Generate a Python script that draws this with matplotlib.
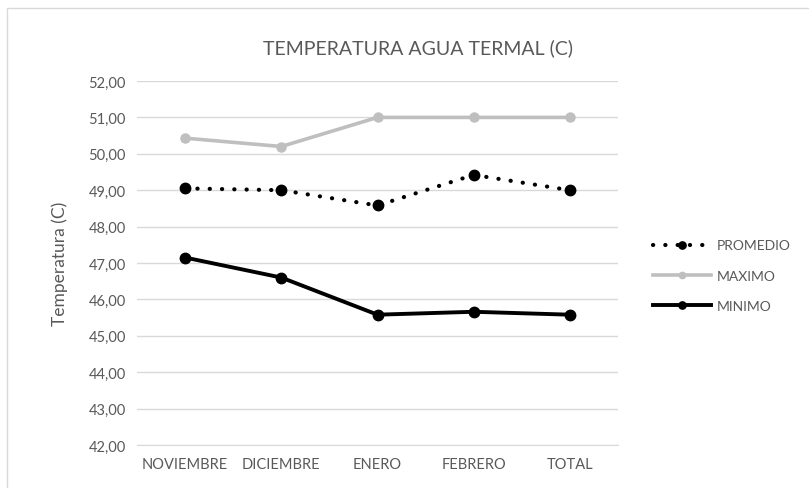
import matplotlib
matplotlib.use("Agg")
import matplotlib.pyplot as plt
from matplotlib.patches import Rectangle

categories = ["NOVIEMBRE", "DICIEMBRE", "ENERO", "FEBRERO", "TOTAL"]
promedio = [49.05, 49.0, 48.58, 49.42, 49.0]
maximo = [50.43, 50.2, 51.0, 51.0, 51.0]
minimo = [47.15, 46.6, 45.58, 45.66, 45.58]
yticks = [42, 43, 44, 45, 46, 47, 48, 49, 50, 51, 52]

plt.rcParams['font.family'] = ['Lato', 'DejaVu Sans']
txt = '#595959'

fig = plt.figure(figsize=(8.09, 4.89), dpi=100)
fig.patches.append(Rectangle((7/809, -0.1), 1.2, 1 - 9/489 + 0.1, transform=fig.transFigure,
                             fill=False, edgecolor='#d9d9d9', linewidth=1))
ax = fig.add_axes([137/809, 1 - 446/489, (618 - 137)/809, (446 - 82)/489])

x = list(range(len(categories)))
ax.plot(x, promedio, color='black', linestyle=(0, (0.05, 2.9)), linewidth=3.0,
        dash_capstyle='round', marker='o', markersize=7.5, label='PROMEDIO')
ax.plot(x, maximo, color='#bfbfbf', linewidth=2.6, marker='o', markersize=6.5, label='MAXIMO')
ax.plot(x, minimo, color='black', linewidth=2.8, marker='o', markersize=7.5, label='MINIMO')

ax.set_xlim(-0.5, len(categories) - 0.5)
ax.set_ylim(42, 52)
ax.set_yticks(yticks)
ax.set_yticklabels([f"{v:.2f}".replace('.', ',') for v in yticks])
ax.set_xticks(x)
ax.set_xticklabels(categories)
ax.grid(axis='y', color='#d9d9d9', linewidth=1)
ax.set_axisbelow(True)
for s in ['top', 'right', 'left']:
    ax.spines[s].set_visible(False)
ax.spines['bottom'].set_color('#d9d9d9')
ax.tick_params(axis='both', length=0, colors=txt, labelsize=10.5)
ax.tick_params(axis='x', pad=9)
ax.tick_params(axis='y', pad=8)
ax.set_ylabel('Temperatura (C)', color=txt, fontsize=12.5, labelpad=15)
fig.text(418/809, 1 - 48/489, 'TEMPERATURA AGUA TERMAL (C)', ha='center', va='center',
         color=txt, fontsize=14)

leg = ax.legend(loc='upper left', bbox_to_anchor=(640/809, 1 - 228/489), bbox_transform=fig.transFigure,
                frameon=False, fontsize=10, labelcolor=txt, handlelength=4.2, labelspacing=1.3,
                handletextpad=0.4, markerscale=0.7)

fig.savefig('out.png', dpi=100)
